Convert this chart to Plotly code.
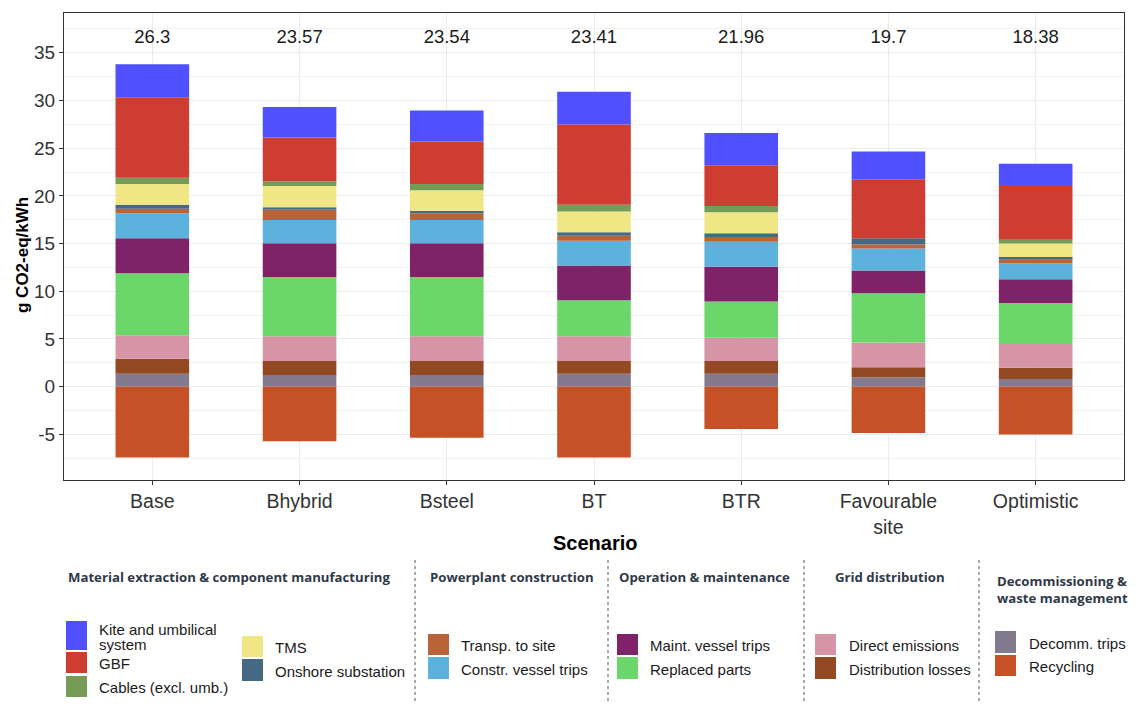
import plotly.graph_objects as go

# ---------------- data ----------------
scenarios = ["Base", "Bhybrid", "Bsteel", "BT", "BTR", "Favourable<br>site", "Optimistic"]
total_labels = ["26.3", "23.57", "23.54", "23.41", "21.96", "19.7", "18.38"]
y_tick_values = [-5, 0, 5, 10, 15, 20, 25, 30, 35]
y_tick_labels = ["-5", "0", "5", "10", "15", "20", "25", "30", "35"]

decomm_trips = [1.36, 1.22, 1.22, 1.36, 1.36, 0.98, 0.80]
distribution_losses = [1.57, 1.47, 1.47, 1.33, 1.33, 1.05, 1.19]
direct_emissions = [2.45, 2.59, 2.59, 2.59, 2.45, 2.59, 2.48]
replaced_parts = [6.50, 6.22, 6.22, 3.78, 3.78, 5.17, 4.30]
maint_vessel_trips = [3.67, 3.53, 3.53, 3.64, 3.64, 2.38, 2.48]
constr_vessel_trips = [2.62, 2.45, 2.45, 2.59, 2.62, 2.31, 1.68]
transp_to_site = [0.49, 1.08, 0.70, 0.52, 0.52, 0.42, 0.38]
onshore_substation = [0.42, 0.24, 0.24, 0.38, 0.38, 0.66, 0.28]
tms = [2.17, 2.24, 2.17, 2.17, 2.20, 0.00, 1.43]
cables = [0.66, 0.49, 0.66, 0.70, 0.66, 0.00, 0.38]
gbf = [8.43, 4.58, 4.44, 8.43, 4.27, 6.12, 5.73]
kite = [3.46, 3.22, 3.25, 3.43, 3.39, 2.97, 2.24]
recycling = [-7.41, -5.73, -5.35, -7.41, -4.44, -4.86, -5.00]

# stacking order bottom -> top
series = [
    ("Decomm. trips", decomm_trips, "#837B8D"),
    ("Distribution losses", distribution_losses, "#924822"),
    ("Direct emissions", direct_emissions, "#D595A7"),
    ("Replaced parts", replaced_parts, "#6BD76B"),
    ("Maint. vessel trips", maint_vessel_trips, "#802268"),
    ("Constr. vessel trips", constr_vessel_trips, "#5DB1DD"),
    ("Transp. to site", transp_to_site, "#BA6338"),
    ("Onshore substation", onshore_substation, "#466983"),
    ("TMS", tms, "#F0E685"),
    ("Cables (excl. umb.)", cables, "#749B58"),
    ("GBF", gbf, "#CE3D32"),
    ("Kite and umbilical system", kite, "#5050FF"),
    ("Recycling", recycling, "#C75127"),
]
colors = {name: c for name, _, c in series}

# ---------------- layout constants ----------------
W, H = 1137, 704
OFF = 8  # page body margin
# plot area in page pixels
PL, PR, PT, PB = 64, 1124, 13, 480
LABEL_Y = 36.5
FONT = "Arial, Liberation Sans, sans-serif"

fig = go.Figure()
for name, vals, col in series:
    fig.add_trace(go.Bar(
        x=scenarios, y=vals, name=name,
        marker=dict(color=col, line=dict(width=0)),
        width=0.5, showlegend=False,
    ))

fig.add_trace(go.Scatter(
    x=scenarios, y=[LABEL_Y] * len(scenarios), text=total_labels,
    mode="text", textfont=dict(family=FONT, size=18.5, color="#1a1a1a"),
    showlegend=False, hoverinfo="skip",
))


def px_x(p):
    return (p - PL) / (PR - PL)


def px_y(p):
    return (PB - p) / (PB - PT)


shapes = []
annotations = []

# axis titles
annotations.append(dict(text="<b>Scenario</b>", xref="paper", yref="paper",
                        x=px_x(595), y=px_y(543), xanchor="center", yanchor="middle",
                        showarrow=False, font=dict(family=FONT, size=20, color="black")))
annotations.append(dict(text="<b>g CO2-eq/kWh</b>", xref="paper", yref="paper",
                        x=px_x(22), y=px_y(255), xanchor="center", yanchor="middle",
                        textangle=-90, showarrow=False,
                        font=dict(family=FONT, size=17, color="black")))

# separators
for sx in [415, 608, 804, 979]:
    shapes.append(dict(type="line", xref="paper", yref="paper",
                       x0=px_x(sx), x1=px_x(sx), y0=px_y(560), y1=px_y(712),
                       line=dict(color="#555555", width=1, dash="dot")))

# group headers
headers = [
    ("Material extraction & component manufacturing", 66, 577),
    ("Powerplant construction", 428, 577),
    ("Operation & maintenance", 617, 577),
    ("Grid distribution", 833, 577),
    ("Decommissioning &<br>waste management", 995, 589),
]
for txt, hx, hy in headers:
    annotations.append(dict(text=txt, xref="paper", yref="paper",
                            x=px_x(hx), y=px_y(hy), xanchor="left", yanchor="middle",
                            align="left", showarrow=False,
                            font=dict(family="Open Sans, sans-serif", size=13.2,
                                      color="#2f3947", weight="bold")))

# legend items: (name, label, swatch x0, y0, y1, label x)
items = [
    ("Kite and umbilical system", "Kite and umbilical<br>system", 66, 621, 650, 97),
    ("GBF", "GBF", 66, 652, 673, 97),
    ("Cables (excl. umb.)", "Cables (excl. umb.)", 66, 676, 697, 97),
    ("TMS", "TMS", 242, 636, 657, 273),
    ("Onshore substation", "Onshore substation", 242, 659, 681, 273),
    ("Transp. to site", "Transp. to site", 428, 634, 655, 459),
    ("Constr. vessel trips", "Constr. vessel trips", 428, 657, 679, 459),
    ("Maint. vessel trips", "Maint. vessel trips", 617, 634, 655, 648),
    ("Replaced parts", "Replaced parts", 617, 657, 679, 648),
    ("Direct emissions", "Direct emissions", 815, 634, 655, 847),
    ("Distribution losses", "Distribution losses", 815, 657, 679, 847),
    ("Decomm. trips", "Decomm. trips", 995, 631, 653, 1027),
    ("Recycling", "Recycling", 995, 655, 676, 1027),
]
LINE_H = 15
for name, label, sx, sy0, sy1, lx in items:
    shapes.append(dict(type="rect", xref="paper", yref="paper",
                       x0=px_x(sx), x1=px_x(sx + 21), y0=px_y(sy1), y1=px_y(sy0),
                       fillcolor=colors[name], line=dict(width=0)))
    lines = label.split("<br>")
    mid = (sy0 + sy1) / 2 + 1
    start = mid - LINE_H * (len(lines) - 1) / 2
    for i, ln in enumerate(lines):
        annotations.append(dict(text=ln, xref="paper", yref="paper",
                                x=px_x(lx), y=px_y(start + i * LINE_H), xanchor="left",
                                yanchor="middle", align="left", showarrow=False,
                                font=dict(family=FONT, size=15, color="#1a1a1a")))

fig.update_layout(
    width=W, height=H,
    margin=dict(l=PL - OFF, r=W - (PR - OFF), t=PT - OFF, b=H - (PB - OFF)),
    barmode="relative",
    plot_bgcolor="white", paper_bgcolor="white",
    shapes=shapes, annotations=annotations,
    font=dict(family=FONT),
)
fig.update_xaxes(
    range=[-0.6, 6.6],
    showgrid=True, gridcolor="#EBEBEB", gridwidth=1,
    showline=True, mirror=True, linecolor="#333333", linewidth=1,
    ticks="outside", ticklen=4, tickcolor="#333333",
    tickfont=dict(family=FONT, size=19.5, color="#333333"),
)
fig.update_yaxes(
    range=[-9.78, 39.17],
    tickmode="array", tickvals=y_tick_values, ticktext=y_tick_labels,
    showgrid=True, gridcolor="#EBEBEB", gridwidth=1,
    minor=dict(tickvals=[-7.5, -2.5, 2.5, 7.5, 12.5, 17.5, 22.5, 27.5, 32.5, 37.5],
               showgrid=True, gridcolor="#F2F2F2", gridwidth=1, ticks=""),
    zeroline=False,
    showline=True, mirror=True, linecolor="#333333", linewidth=1,
    ticks="outside", ticklen=4, tickcolor="#333333",
    tickfont=dict(family=FONT, size=19, color="#333333"),
)

fig.write_html("out.html")
